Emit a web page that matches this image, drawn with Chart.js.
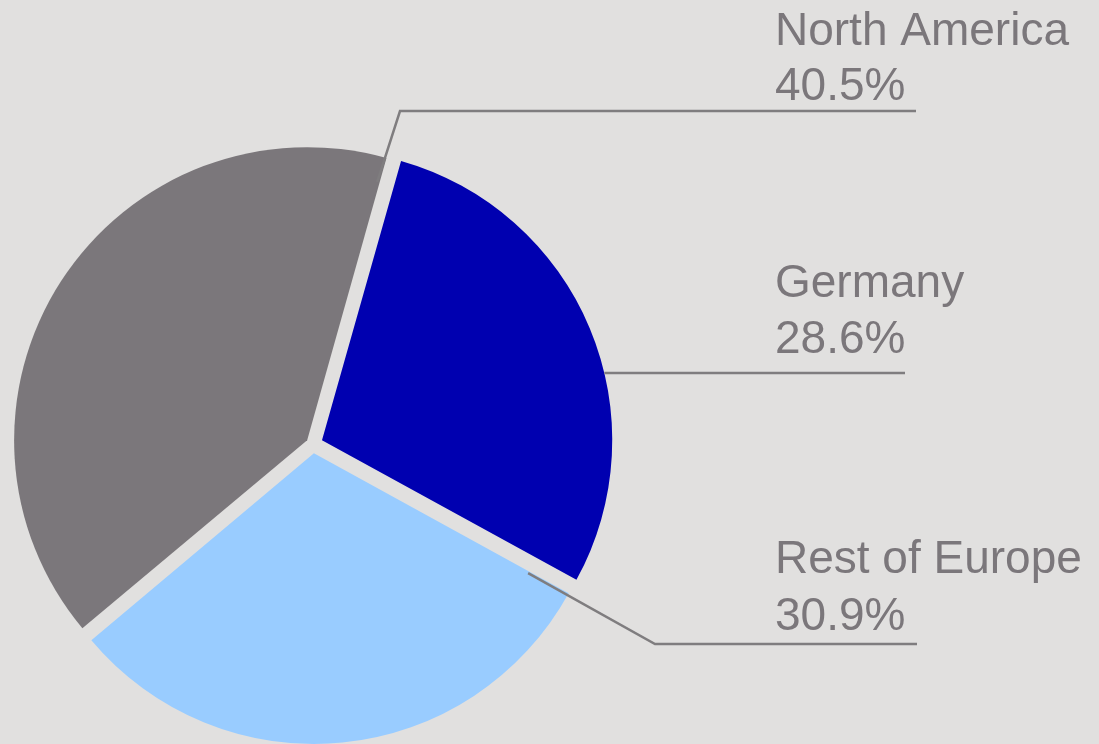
<!DOCTYPE html>
<html>
<head>
<meta charset="utf-8">
<script src="https://cdn.jsdelivr.net/npm/chart.js@4"></script>
<style>
  html, body { margin: 0; padding: 0; background: #e1e0df; }
  #wrap { width: 1099px; height: 744px; position: relative; }
</style>
</head>
<body>
<div id="wrap"><canvas id="c" width="1099" height="744"></canvas></div>
<script>
// ---- data ----
const categories = ["North America", "Germany", "Rest of Europe"];
const shares = [40.5, 28.6, 30.9];
const shareLabels = ["40.5%", "28.6%", "30.9%"];
const sliceColors = ["#7b777b", "#0000b0", "#99ccff"];

// ---- styling / layout ----
const explodePx = 10; // how far every slice is pulled out
const leaderLayout = [
  { frac: 1.0,   rf: 0.92,  elbow: [400, 111], end: [916, 111], textX: 775, base: [45, 100] },
  { frac: null,  rf: 1.0,   elbow: null,       end: [905, 373], textX: 775, base: [297, 353] },
  { frac: 0.003, rf: 0.845, elbow: [655, 644], end: [917, 644], textX: 775, base: [573, 630] }
];

const total = shares.reduce((a, b) => a + b, 0);
function fixFor(v) {
  const circ = v / total * 2 * Math.PI;
  return 1 - Math.sin(Math.min(Math.PI, circ));
}
// Chart.js translates an arc by offset/4 * (1 + fix); choose offset so it is explodePx
function offsetFor(v) { return 4 * explodePx / (1 + fixFor(v)); }

const leaderPlugin = {
  id: 'leaders',
  afterDatasetsDraw(chart) {
    const ctx = chart.ctx;
    const arcs = chart.getDatasetMeta(0).data;
    ctx.save();
    arcs.forEach((arc, i) => {
      const L = leaderLayout[i];
      const p = arc.getProps(['x', 'y', 'startAngle', 'endAngle', 'outerRadius', 'circumference'], true);
      const off = (arc.options.offset || 0) / 4;
      const fix = 1 - Math.sin(Math.min(Math.PI, p.circumference || 0));
      const shift = off * (1 + fix);
      const mid = (p.startAngle + p.endAngle) / 2;
      const cx = p.x + Math.cos(mid) * shift;
      const cy = p.y + Math.sin(mid) * shift;
      let sx, sy;
      if (L.frac === null) {
        sy = L.end[1];
        const r = p.outerRadius * L.rf;
        sx = cx + Math.sqrt(Math.max(0, r * r - (sy - cy) * (sy - cy)));
      } else {
        const a = p.startAngle + L.frac * (p.endAngle - p.startAngle);
        sx = cx + Math.cos(a) * p.outerRadius * L.rf;
        sy = cy + Math.sin(a) * p.outerRadius * L.rf;
      }
      ctx.beginPath();
      ctx.strokeStyle = '#7f7d7f';
      ctx.lineWidth = 2.5;
      ctx.lineJoin = 'miter';
      ctx.moveTo(sx, sy);
      if (L.elbow) ctx.lineTo(L.elbow[0], L.elbow[1]);
      ctx.lineTo(L.end[0], L.end[1]);
      ctx.stroke();

      ctx.fillStyle = '#7b777b';
      ctx.font = '46px "Liberation Sans", Arial, sans-serif';
      ctx.textAlign = 'left';
      ctx.textBaseline = 'alphabetic';
      ctx.fillText(categories[i], L.textX, L.base[0]);
      ctx.fillText(shareLabels[i], L.textX, L.base[1]);
    });
    ctx.restore();
  }
};

new Chart(document.getElementById('c'), {
  type: 'pie',
  data: {
    labels: categories,
    datasets: [{
      data: shares,
      backgroundColor: sliceColors,
      borderWidth: 0,
      offset: (c) => offsetFor(c.dataset.data[c.dataIndex]),
      hoverOffset: 0,
      radius: 290
    }]
  },
  options: {
    responsive: false,
    animation: false,
    events: [],
    rotation: -130,
    layout: { padding: { left: 0, right: 473, top: 144, bottom: 0 } },
    plugins: {
      legend: { display: false },
      tooltip: { enabled: false },
      title: { display: false }
    }
  },
  plugins: [leaderPlugin]
});
</script>
</body>
</html>
